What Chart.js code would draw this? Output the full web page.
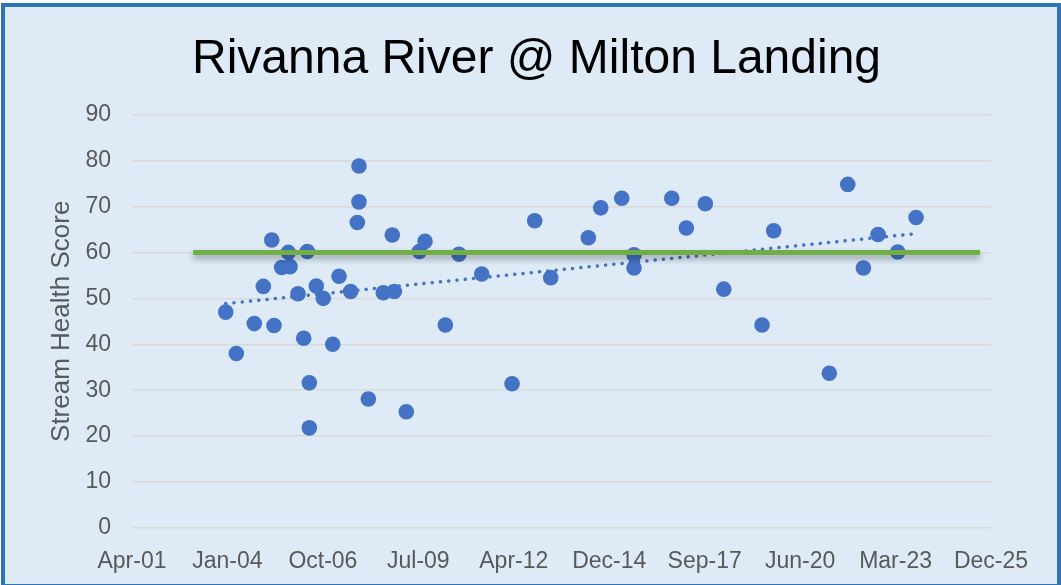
<!DOCTYPE html>
<html>
<head>
<meta charset="utf-8">
<title>Rivanna River @ Milton Landing</title>
<script src="https://cdn.jsdelivr.net/npm/chart.js@4.4.1/dist/chart.umd.min.js"></script>
<style>
  html, body { margin: 0; padding: 0; background: #fff; }
  #wrap { position: relative; width: 1061px; height: 585px; overflow: hidden; }
  #frame {
    position: absolute; left: 1px; top: 3px; width: 1060px; height: 585px;
    box-sizing: border-box; border: 4px solid #2E75B6; background: #DEEBF7;
  }
  #scoreChart { position: absolute; left: 0; top: 0; }
</style>
</head>
<body>
<div id="wrap">
  <div id="frame"></div>
  <canvas id="scoreChart" width="1061" height="585"></canvas>
</div>
<script>
// sample dates as Excel day serials (1899-12-30 = 0)
const sampleDays = [
  37982, 38093, 38281, 38376, 38464, 38488, 38568, 38638, 38655, 38739,
  38799, 38837, 38858, 38858, 38931, 39004, 39103, 39169, 39291, 39361,
  39378, 39378, 39476, 39633, 39727, 39748, 39874, 40011, 40070, 40283,
  40426, 40664, 40982, 41219, 41387, 41781, 41911, 42131, 42260, 42260,
  42655, 42808, 43007, 43200, 43601, 43723, 44306, 44499, 44663, 44817,
  45023, 45215
];
const scores = [
  47.0, 38.0, 44.5, 52.6, 62.7, 44.1, 56.7, 60.0, 56.9, 51.0,
  41.3, 60.2, 31.6, 21.8, 52.7, 50.0, 40.0, 54.8, 51.5, 66.5,
  71.0, 78.8, 28.1, 51.2, 63.8, 51.5, 25.3, 60.2, 62.4, 44.2,
  59.6, 55.3, 31.4, 66.9, 54.5, 63.2, 69.7, 71.8, 59.5, 56.6,
  71.8, 65.3, 70.6, 52.0, 44.2, 64.7, 33.7, 74.8, 56.6, 63.9,
  60.1, 67.6
];
// healthy-stream benchmark line
const targetScore = 60;
const targetDays = [37640, 45885];
const axisStart = 37000, axisEnd = 46000, axisStep = 1000;

const months = ['Jan','Feb','Mar','Apr','May','Jun','Jul','Aug','Sep','Oct','Nov','Dec'];
function serialLabel(v) {
  const d = new Date(Date.UTC(1899, 11, 30) + v * 86400000);
  return months[d.getUTCMonth()] + '-' + String(d.getUTCFullYear()).slice(2);
}

// linear trendline (least squares) over the samples
const n = sampleDays.length;
let sx = 0, sy = 0, sxx = 0, sxy = 0;
for (let i = 0; i < n; i++) {
  sx += sampleDays[i]; sy += scores[i];
  sxx += sampleDays[i] * sampleDays[i]; sxy += sampleDays[i] * scores[i];
}
const slope = (n * sxy - sx * sy) / (n * sxx - sx * sx);
const intercept = (sy - slope * sx) / n;
const trendDays = [];
for (let d = sampleDays[0]; d <= sampleDays[n - 1]; d += 60) trendDays.push(d);
trendDays.push(sampleDays[n - 1]);

const shadowPlugin = {
  id: 'targetShadow',
  beforeDatasetDraw(chart, args) {
    if (args.index !== 2) return;
    const ctx = chart.ctx;
    ctx.save();
    ctx.shadowColor = 'rgba(0,0,0,0.35)';
    ctx.shadowBlur = 6;
    ctx.shadowOffsetY = 4;
  },
  afterDatasetDraw(chart, args) {
    if (args.index !== 2) return;
    chart.ctx.restore();
  }
};

const fontFamily = 'Liberation Sans, Arial, sans-serif';

const ctx = document.getElementById('scoreChart').getContext('2d');
new Chart(ctx, {
  type: 'scatter',
  data: {
    datasets: [
      {
        label: 'Stream Health Score',
        data: sampleDays.map((d, i) => ({ x: d, y: scores[i] })),
        backgroundColor: '#4472C4',
        borderColor: '#4472C4',
        borderWidth: 0,
        pointRadius: 7.8,
        order: 3
      },
      {
        label: 'Trend',
        type: 'line',
        data: trendDays.map(d => ({ x: d, y: intercept + slope * d })),
        borderColor: '#4472C4',
        borderWidth: 3.5,
        borderDash: [0.1, 8.2],
        borderCapStyle: 'round',
        pointRadius: 0,
        fill: false,
        order: 2
      },
      {
        label: 'Target',
        type: 'line',
        data: targetDays.map(d => ({ x: d, y: targetScore })),
        borderColor: '#70AD47',
        borderWidth: 5,
        pointRadius: 0,
        fill: false,
        order: 1
      }
    ]
  },
  options: {
    responsive: false,
    animation: false,
    layout: { padding: { left: 12, right: 0, top: 0, bottom: 0 } },
    scales: {
      x: {
        type: 'linear',
        min: axisStart,
        max: axisEnd,
        afterFit: s => { s.height = 57; },
        afterBuildTicks: s => {
          s.ticks = [];
          for (let v = axisStart; v <= axisEnd; v += axisStep) s.ticks.push({ value: v });
        },
        ticks: {
          callback: v => serialLabel(v),
          color: '#595959',
          font: { family: fontFamily, size: 23 },
          padding: 12,
          maxRotation: 0,
          autoSkip: false
        },
        grid: { display: false },
        border: { display: false }
      },
      y: {
        min: 0,
        max: 90,
        afterFit: s => { s.width = 120; },
        ticks: {
          stepSize: 10,
          color: '#595959',
          font: { family: fontFamily, size: 23 },
          padding: 21
        },
        grid: { color: '#D9D9D9', lineWidth: 1.5, drawTicks: false },
        border: { display: false },
        title: {
          display: true,
          text: 'Stream Health Score',
          color: '#595959',
          font: { family: fontFamily, size: 26 },
          padding: { top: 34, bottom: 0 }
        }
      },
      // empty right-hand spacer so the plot stops where the reference does
      spacer: {
        type: 'linear',
        position: 'right',
        min: 0,
        max: 90,
        afterFit: s => { s.width = 70; },
        ticks: { display: false },
        grid: { display: false },
        border: { display: false }
      }
    },
    plugins: {
      legend: { display: false },
      tooltip: { enabled: false },
      title: {
        display: true,
        text: 'Rivanna River @ Milton Landing',
        color: '#000000',
        font: { family: fontFamily, size: 48, weight: 'normal' },
        padding: { top: 31, bottom: 26 }
      }
    }
  },
  plugins: [shadowPlugin]
});
</script>
</body>
</html>
